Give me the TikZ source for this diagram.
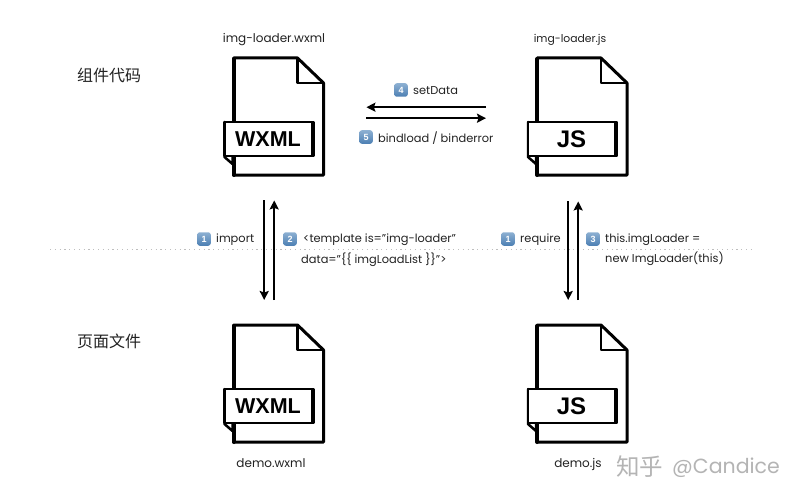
\documentclass[tikz,border=0pt]{standalone}
\usepackage{fontspec}
\setmainfont{Poppins}
\newfontfamily\cjk{Noto Sans CJK SC}
\newfontfamily\boldsans{Liberation Sans}[BoldFont={Liberation Sans Bold}]
\usetikzlibrary{arrows.meta}
\definecolor{ink}{HTML}{222222}
\definecolor{wm}{HTML}{B4B4B4}
\definecolor{dotgray}{HTML}{BEBEBE}
\definecolor{badgetop}{HTML}{8DB0D2}
\definecolor{badgebot}{HTML}{4C7FB3}
\tikzset{
  x=1pt,y=-1pt,
  label text/.style={inner sep=0pt,anchor=west,text=ink,font=\fontsize{11.4}{13}\selectfont},
  title text/.style={inner sep=0pt,text=ink,font=\fontsize{12}{14}\selectfont},
  cn text/.style={inner sep=0pt,anchor=west,text=ink,font=\cjk\fontsize{16}{18}\selectfont},
  badge/.style={inner sep=0pt,minimum size=13.5pt,rounded corners=2.5pt,top color=badgetop,bottom color=badgebot,text=white,font=\boldsans\bfseries\fontsize{9}{10}\selectfont},
  flow/.style={line width=2pt,black,-{Stealth[length=9pt,width=9pt,inset=1.5pt]}},
  outline/.style={line width=3pt,black,line join=round,line cap=round},
  filebox/.style={inner sep=0pt,minimum width=90pt,minimum height=118pt,anchor=north west},
}
% #1 node name, #2 x, #3 y, #4 band label, #5 band label size
\newcommand{\docfile}[5]{%
  \begin{scope}[shift={(#2,#3)}]
    \node[filebox] (#1) at (0,0) {};
    \draw[outline,fill=white] (0,0) -- (64,0) -- (90,25) -- (90,117) -- (0,117) -- cycle;
    \draw[line width=4pt,black,line cap=round] (0,1) -- (0,117);
    \draw[outline,line width=2.8pt,line cap=butt] (64,0) -- (64,25) -- (90,25);
    \draw[outline,line width=2.5pt,fill=white] (-9,64) -- (-9,99) -- (-1,106) -- (-1,99);
    \draw[outline,line width=2.5pt,fill=white] (-9,64) -- (80,64) -- (80,98) -- (-9,98) -- cycle;
    \draw[line width=3.6pt,black] (79,65) -- (79,97);
    \node[inner sep=0pt,font=\boldsans\bfseries\fontsize{#5}{#5}\selectfont] (#1-band) at (34.5,81) {#4};
  \end{scope}}
\begin{document}
\begin{tikzpicture}
\useasboundingbox (0,0) rectangle (800,500);
\fill[white] (0,0) rectangle (800,500);
\draw[dotgray,line width=1pt,dash pattern=on 1.2pt off 3.6pt] (50,249) -- (752,249);

\docfile{ww}{233.5}{58}{WXML}{21.5}
\docfile{wj}{537}{58}{JS}{24}
\docfile{dw}{233.5}{325}{WXML}{21.5}
\docfile{dj}{537}{325}{JS}{24}

\node[title text] (twx) at (274,39.5) {img-loader.wxml};
\node[title text,font=\fontsize{10.8}{14}\selectfont] (tjs) at (570,39.5) {img-loader.js};
\node[title text] (tdw) at (271,463) {demo.wxml};
\node[title text] (tdj) at (578,464) {demo.js};

\node[cn text] (cn1) at (77,75) {组件代码};
\node[cn text] (cn2) at (77,341) {页面文件};

% connectors
\draw[flow] ([xshift=-51pt,yshift=10pt]wj.west) -- ([xshift=42.5pt,yshift=10pt]ww.east);
\draw[flow] ([xshift=42.5pt,yshift=-1pt]ww.east) -- ([xshift=-51pt,yshift=-1pt]wj.west);
\draw[flow] ([xshift=-14.5pt,yshift=-24pt]ww.south) -- ([xshift=-14.5pt,yshift=25pt]dw.north);
\draw[flow] ([xshift=-4.5pt,yshift=25pt]dw.north) -- ([xshift=-4.5pt,yshift=-24pt]ww.south);
\draw[flow] ([xshift=-14pt,yshift=-25pt]wj.south) -- ([xshift=-14pt,yshift=25pt]dj.north);
\draw[flow] ([xshift=-4pt,yshift=25pt]dj.north) -- ([xshift=-4pt,yshift=-25pt]wj.south);

% labels
\node[badge] (n4) at (401,90) {4};
\node[label text] (l4) at (413,91) {setData};
\node[badge] (n5) at (366,137) {5};
\node[label text] (l5) at (378,138) {bindload / binderror};
\node[badge] (n1a) at (204,239) {1};
\node[label text] (l1a) at (216,240) {import};
\node[badge] (n2) at (290,239) {2};
\node[label text] (l2) at (303,240) {<template is="img-loader"};
\node[label text] (l2b) at (301,260) {data="\{\{ imgLoadList \}\}">};
\node[badge] (n1b) at (508,239) {1};
\node[label text] (l1b) at (520,240) {require};
\node[badge] (n3) at (593,239) {3};
\node[label text] (l3) at (605,240) {this.imgLoader =};
\node[label text] (l3b) at (605,259) {new ImgLoader(this)};

% watermark
\node[inner sep=0pt,anchor=west,text=wm,font=\cjk\fontsize{23.5}{26}\selectfont] (wm1) at (616,467) {知乎};
\node[inner sep=0pt,anchor=west,text=wm,font=\fontsize{20.5}{24}\selectfont] (wm2) at (672,468) {@Candice};
\end{tikzpicture}
\end{document}
